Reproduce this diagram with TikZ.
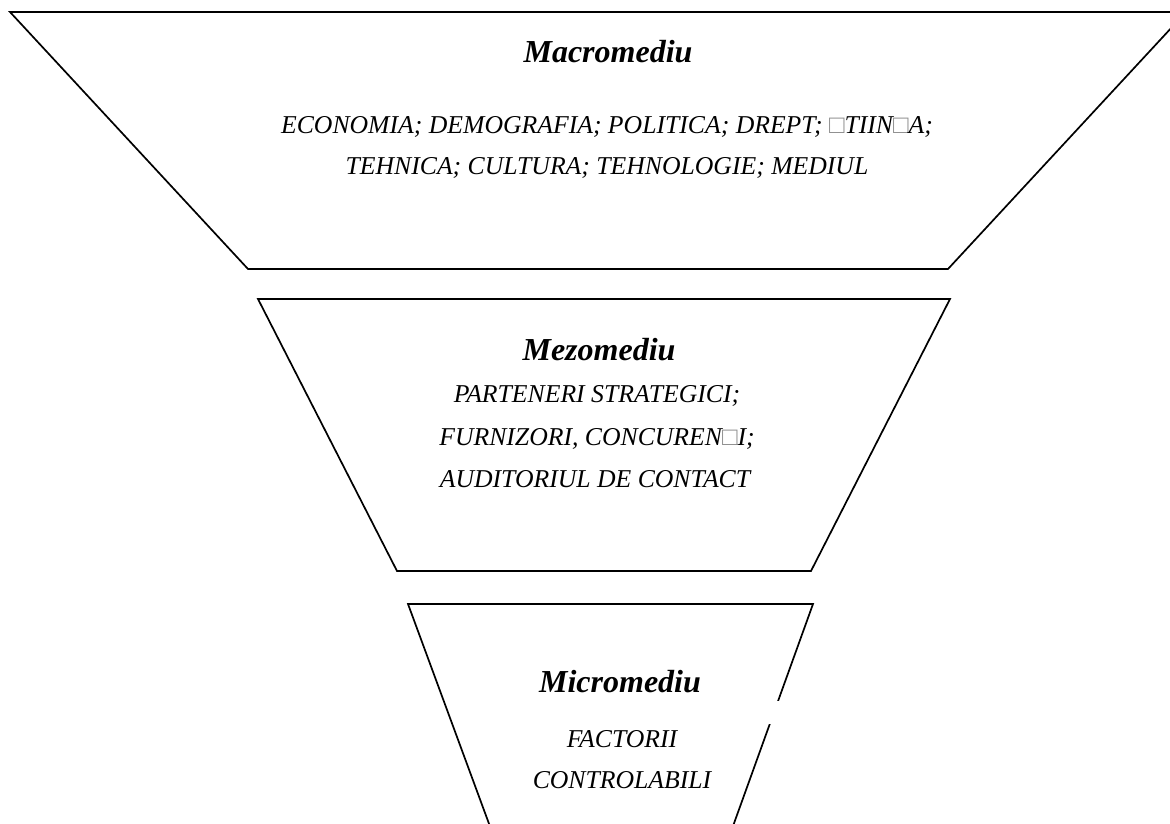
\documentclass[tikz,border=0pt]{standalone}
\usepackage{fontspec}
\setmainfont{Liberation Serif}
\begin{document}
\begin{tikzpicture}[x=1pt,y=-1pt,
  level/.style={line width=1.7pt, line join=miter},
  title/.style={font=\fontsize{32}{36}\selectfont\bfseries\itshape, anchor=base, inner sep=0pt},
  factors/.style={font=\fontsize{25.7}{30}\selectfont\itshape, anchor=base, inner sep=0pt},
]
\newcommand{\missingglyph}{{\upshape\color{black!45}□}}
\useasboundingbox (0,0) rectangle (1170,824);
\begin{scope}
\clip (0,0) rectangle (1170,824);
% three stacked trapezoids of the funnel
\draw[level] (10,12) -- (1186,12) -- (948,269) -- (248,269) -- cycle;
\draw[level] (258,299) -- (950,299) -- (811,571) -- (397,571) -- cycle;
\draw[level] (408,604) -- (813,604) -- (728,840) -- (495,840) -- cycle;
% break in the right edge of the lowest level
\fill[white] (760,701) rectangle (790,724);
\end{scope}

% outer level
\node[title]   (macro)  at (608,63)  {Macromediu};
\node[factors] (macro1) at (607,134) {ECONOMIA; DEMOGRAFIA; POLITICA; DREPT; \missingglyph TIIN\missingglyph A;};
\node[factors] (macro2) at (607,175) {TEHNICA; CULTURA; TEHNOLOGIE; MEDIUL};

% middle level
\node[title]   (mezo)  at (599,360) {Mezomediu};
\node[factors] (mezo1) at (597,402) {PARTENERI STRATEGICI;};
\node[factors] (mezo2) at (597,445) {FURNIZORI, CONCUREN\missingglyph I;};
\node[factors] (mezo3) at (595,487) {AUDITORIUL DE CONTACT};

% inner level
\node[title]   (micro)  at (620,692) {Micromediu};
\node[factors] (micro1) at (622,747) {FACTORII};
\node[factors] (micro2) at (622,788) {CONTROLABILI};
\end{tikzpicture}
\end{document}
